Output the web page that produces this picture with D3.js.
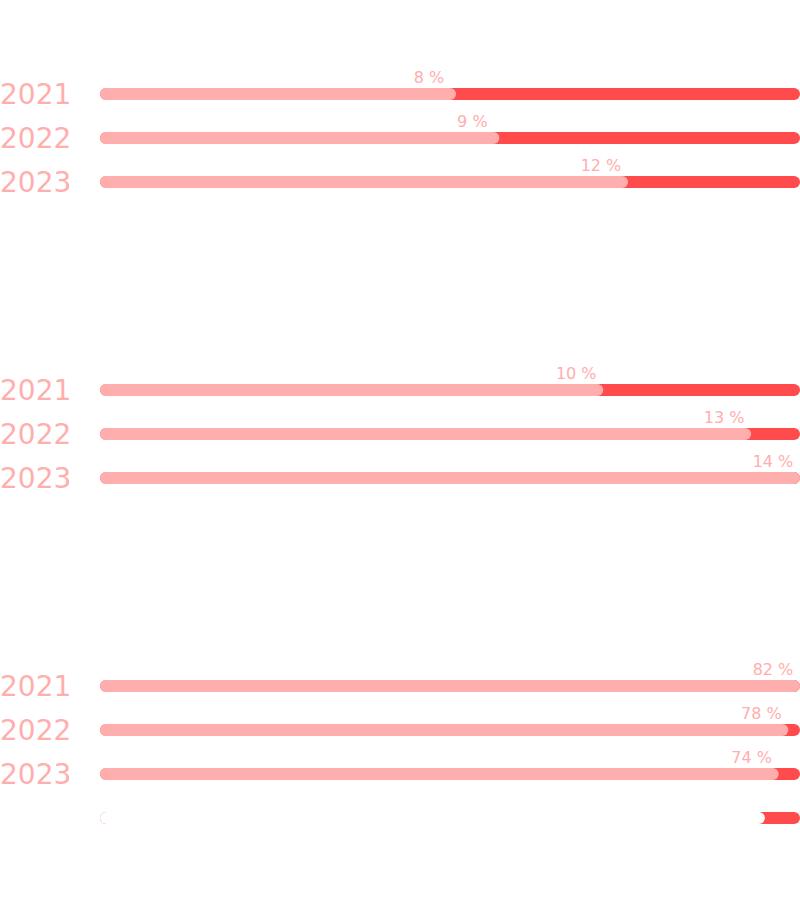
<!DOCTYPE html>
<html><head><meta charset="utf-8">
<script src="https://cdn.jsdelivr.net/npm/d3@7"></script>
<style>body{margin:0;background:#fff}</style>
</head><body><div id="chart"></div>
<script>
// years per group
const years = ["2021", "2022", "2023"];
// labels shown above bars
const labels1 = ["8 %", "9 %", "12 %"];
const labels2 = ["10 %", "13 %", "14 %"];
const labels3 = ["82 %", "78 %", "74 %"];
// fill share of the track (% of track)
const fill1 = [50, 56.3, 75];
const fill2 = [71.4, 92.9, 100];
const fill3 = [100, 98.3, 96.9];
const hiddenFill = 94.9;

const svg = d3.select("#chart").append("svg").attr("width", 800).attr("height", 924);
const x = d3.scaleLinear().domain([0, 100]).range([106, 794]);

const groups = [
  { top: 94, labels: labels1, fill: fill1 },
  { top: 390, labels: labels2, fill: fill2 },
  { top: 686, labels: labels3, fill: fill3 }
];
const rows = [];
groups.forEach(g => years.forEach((yr, i) => rows.push({ y: g.top + i * 44, year: yr, label: g.labels[i], v: g.fill[i], col: "#ffaeae" })));
rows.push({ y: 818, year: "", label: "", v: hiddenFill, col: "#ffffff" });

const r = svg.selectAll("g.row").data(rows).enter().append("g").attr("class", "row");
r.append("line").attr("x1", x(0)).attr("x2", x(100)).attr("y1", d => d.y).attr("y2", d => d.y)
  .attr("stroke", "#ff4b4b").attr("stroke-width", 12).attr("stroke-linecap", "round");
r.append("line").attr("x1", x(0)).attr("x2", d => x(d.v)).attr("y1", d => d.y).attr("y2", d => d.y)
  .attr("stroke", d => d.col).attr("stroke-width", 12).attr("stroke-linecap", "round");
r.append("text").attr("x", 0).attr("y", d => d.y + 10).text(d => d.year)
  .attr("font-family", "DejaVu Sans").attr("font-size", 28).attr("fill", "#ffaeae");
r.append("text").attr("x", d => x(d.v) - 21).attr("y", d => d.y - 11).attr("text-anchor", "middle")
  .text(d => d.label).attr("font-family", "DejaVu Sans").attr("font-size", 16).attr("fill", "#ffaeae");
</script></body></html>
